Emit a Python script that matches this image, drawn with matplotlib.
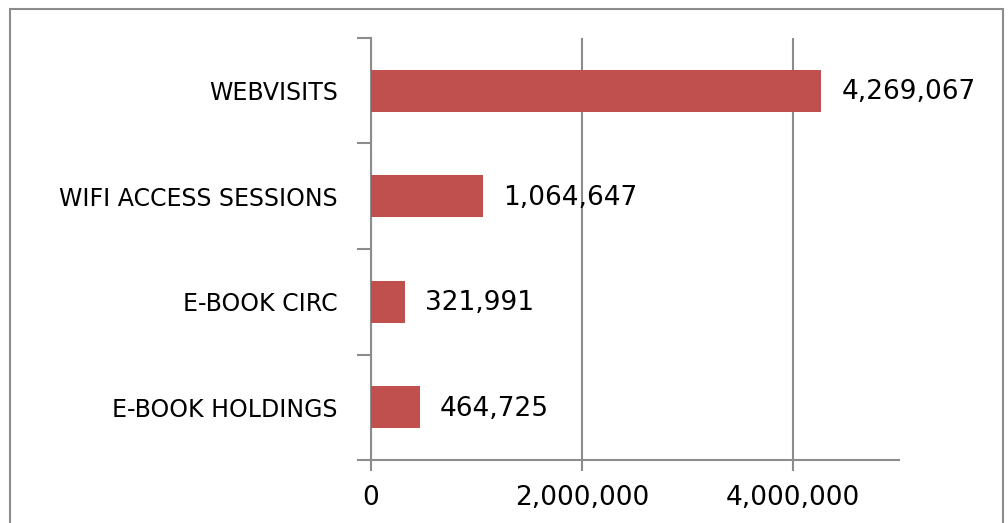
import matplotlib.pyplot as plt
from matplotlib.patches import Rectangle
from matplotlib.ticker import FuncFormatter

categories = ['WEBVISITS', 'WIFI ACCESS SESSIONS', 'E-BOOK CIRC', 'E-BOOK HOLDINGS']
values = [4269067, 1064647, 321991, 464725]
xticks = [0, 2000000, 4000000]

plt.rcParams['font.family'] = ['DejaVu Sans']

fig = plt.figure(figsize=(10.08, 5.23), dpi=100)
fig.patches.append(Rectangle((10 / 1008, -0.1), 993 / 1008, 1.1 - 9 / 523,
                             transform=fig.transFigure, fill=False,
                             edgecolor='#8c8c8c', linewidth=1.5))
ax = fig.add_axes([371 / 1008, 63 / 523, 527.5 / 1008, 422 / 523])

pos = list(range(len(categories)))
ax.barh(pos, values, height=0.4, color='#c0504d', zorder=3)
ax.set_ylim(len(categories) - 0.5, -0.5)
ax.set_xlim(0, 5000000)

for p, v in zip(pos, values):
    ax.text(v + 190000, p + 0.015, f'{v:,}', va='center', ha='left', fontsize=19, color='black')

# category boundaries get the tick marks, names sit between them
ax.set_yticks([p + 0.5 for p in [-1] + pos], minor=False)
ax.set_yticklabels([])
ax.set_yticks(pos, minor=True)
ax.set_yticklabels(categories, minor=True, fontsize=17)
ax.tick_params(axis='y', which='minor', length=0, pad=24)
ax.tick_params(axis='y', which='major', length=10, color='#8c8c8c', width=1.5)

ax.set_xticks(xticks)
ax.xaxis.set_major_formatter(FuncFormatter(lambda x, _: f'{int(x):,}'))
ax.tick_params(axis='x', length=8, color='#8c8c8c', width=1.5, labelsize=19, pad=10)

ax.grid(axis='x', color='#8c8c8c', linewidth=1.5, zorder=0)
for s in ['top', 'right']:
    ax.spines[s].set_visible(False)
for s in ['left', 'bottom']:
    ax.spines[s].set_color('#8c8c8c')
    ax.spines[s].set_linewidth(1.5)

fig.savefig('out.png', dpi=100)
